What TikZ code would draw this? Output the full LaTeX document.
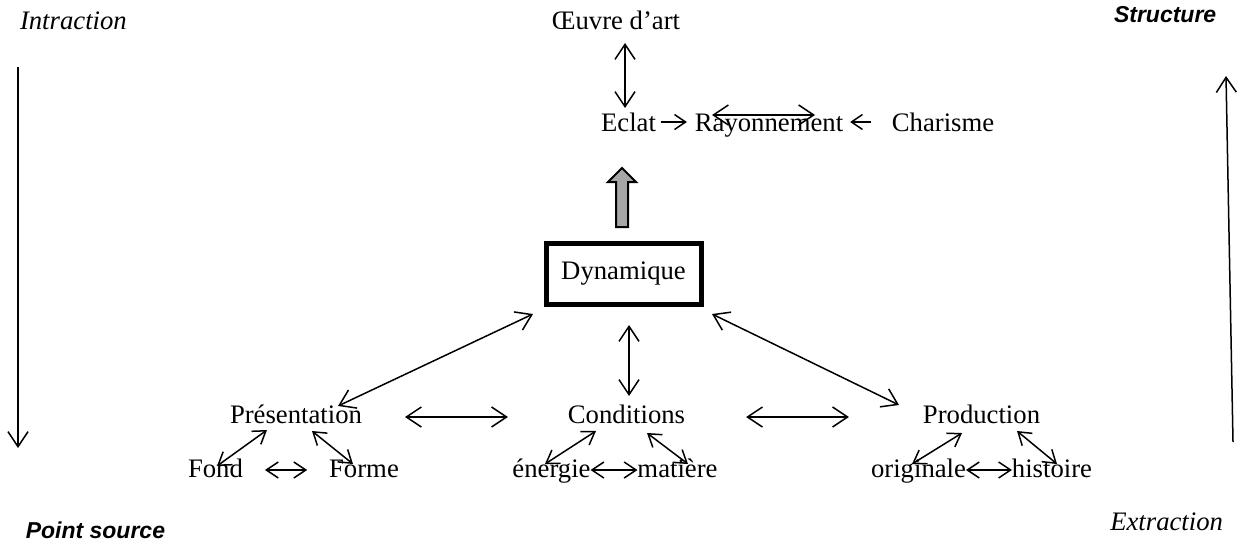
\documentclass[tikz,border=0pt]{standalone}
\usepackage{fontspec}
\setmainfont{Liberation Serif}
\newfontfamily\brushfont{Liberation Sans}
\usetikzlibrary{arrows.meta}

\begin{document}
\begin{tikzpicture}[x=1pt, y=-1pt, line width=1.5pt,
		>={Straight Barb[length=15pt,width=20pt]},
		txt/.style={inner sep=0pt, outer sep=0pt, text height=18pt, text depth=6pt, font=\fontsize{26.7}{32}\selectfont},
		side/.style={txt, font=\fontsize{26.7}{32}\selectfont\itshape},
		brush/.style={inner sep=0pt, font=\brushfont\fontsize{23}{28}\selectfont\bfseries\itshape},
		small/.style={{Straight Barb[length=12pt,width=16pt]}-{Straight Barb[length=12pt,width=16pt]}},
		smallto/.style={-{Straight Barb[length=11pt,width=15pt]}}]
		\useasboundingbox (0,0) rectangle (1238,544);

		% corner labels
		\draw (20,23) node[side, anchor=west] (intra) {Intraction};
		\draw (1217,15) node[brush, anchor=east] (struct) {Structure};
		\draw (25,530) node[brush, anchor=west] (source) {Point source};
		\draw (1223,524) node[side, anchor=east] (extra) {Extraction};

		\coordinate (ltop) at (18,67);
		\coordinate (lbot) at (18,448);
		\coordinate (rbot) at (1233,442);
		\coordinate (rtop) at (1226,76);
		\draw [->] (ltop) -- (lbot);
		\draw [->] (rbot) -- (rtop);

		% top
		\draw (616,23) node[txt] (oeuvre) {Œuvre d’art};
		\draw (628.5,125) node[txt] (eclat) {Eclat};
		\draw (769,125) node[txt] (ray) {Rayonnement};
		\draw (943,125) node[txt] (charisme) {Charisme};

		\draw [<->] ([xshift=9,yshift=-8]oeuvre.south) -- ([xshift=-3.5,yshift=5]eclat.north);
		\draw [smallto] ([xshift=5,yshift=3]eclat.east) -- ([xshift=-8,yshift=3]ray.west);
		\draw [smallto] ([xshift=-21,yshift=3]charisme.west) -- ([xshift=7,yshift=3]ray.east);
		\draw [<->] ([xshift=-57,yshift=-2]ray.north) -- ([xshift=46,yshift=-2]ray.north);

		% centre
		\draw [line width=2pt, fill=gray!70] (616,227) -- (628,227) -- (628,182) -- (636,182)
			-- (622,168) -- (608,182) -- (616,182) -- cycle;
		\draw (623.5,273.5) node[draw, line width=5pt, outer sep=0pt, minimum width=155pt, minimum height=61pt,
			font=\fontsize{26.7}{32}\selectfont] (dyn) {Dynamique};

		% middle row
		\draw (296,417) node[txt] (pres) {Présentation};
		\draw (626.5,417) node[txt] (cond) {Conditions};
		\draw (981.5,417) node[txt] (prod) {Production};

		\draw [<->] ([xshift=42,yshift=-1]pres.north) -- ([xshift=-13,yshift=-10]dyn.south west);
		\draw [<->] ([xshift=5.5,yshift=-21]dyn.south) -- ([xshift=2.5,yshift=9]cond.north);
		\draw [<->] ([xshift=11,yshift=-10]dyn.south east) -- ([xshift=-82.5]prod.north);
		\draw [<->] ([xshift=43]pres.east) -- ([xshift=-60]cond.west);
		\draw [<->] ([xshift=61]cond.east) -- ([xshift=-74]prod.west);

		% bottom row
		\draw (215.5,471) node[txt] (fond) {Fond};
		\draw (364,471) node[txt] (forme) {Forme};
		\draw (551.5,471) node[txt] (energie) {énergie};
		\draw (677.5,471) node[txt] (matiere) {matière};
		\draw (918.5,471) node[txt] (orig) {originale};
		\draw (1052,471) node[txt] (hist) {histoire};

		\draw [small] ([xshift=-29,yshift=-1]pres.south) -- ([xshift=1.5,yshift=-7]fond.north);
		\draw [small] ([xshift=16,yshift=-2]pres.south) -- ([xshift=-11,yshift=-5]forme.north);
		\draw [small] ([xshift=22,yshift=1]fond.east) -- ([xshift=-22,yshift=1]forme.west);
		\draw [small] ([xshift=-30.5,yshift=-2]cond.south) -- ([xshift=-6.5,yshift=-5]energie.north);
		\draw [small] ([xshift=20.5,yshift=-4]cond.south) -- ([xshift=10.5,yshift=-5]matiere.north);
		\draw [small] ([yshift=1]energie.east) -- ([yshift=1]matiere.west);
		\draw [small] ([xshift=-19.5,yshift=-4]prod.south) -- ([xshift=-6.5,yshift=-5]orig.north);
		\draw [small] ([xshift=35.5,yshift=-2]prod.south) -- ([xshift=5,yshift=-5]hist.north);
		\draw [small] ([yshift=1]orig.east) -- ([yshift=1]hist.west);
	\end{tikzpicture}
\end{document}
